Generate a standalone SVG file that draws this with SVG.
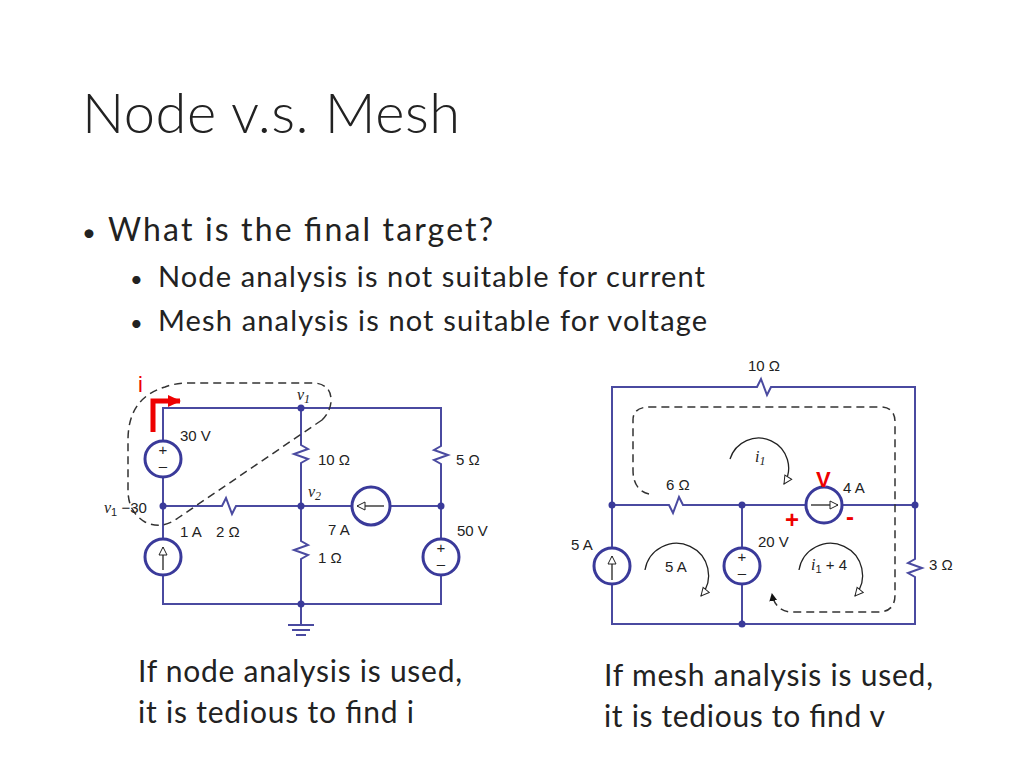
<svg xmlns="http://www.w3.org/2000/svg" width="1024" height="768" viewBox="0 0 1024 768">
<defs>
<style>
.w{stroke:#4a4aa0;stroke-width:2;fill:none}
.src{stroke:#3a3a9a;stroke-width:3;fill:#fff}
.d{stroke:#333;stroke-width:1.5;fill:none;stroke-dasharray:8,5}
.arc{stroke:#222;stroke-width:1.3;fill:none}
.l{font-family:"Liberation Sans",Arial,sans-serif;font-size:15px;fill:#222}
.t{font-family:Lato,"Noto Sans",sans-serif;fill:#222}
.n{fill:#3a3a9a}
.red{fill:#e00;font-family:"Liberation Sans",sans-serif}
</style>
<marker id="oa" markerWidth="10" markerHeight="10" refX="9" refY="5" orient="auto" markerUnits="userSpaceOnUse"><path d="M1,1 L9,5 L1,9 Z" fill="#fff" stroke="#222"/></marker>
<marker id="fa" markerWidth="8" markerHeight="10" refX="7" refY="5" orient="auto" markerUnits="userSpaceOnUse"><path d="M0,1 L8,5 L0,9 Z" fill="#111"/></marker>
<marker id="ra" markerWidth="14" markerHeight="14" refX="12" refY="7" orient="auto" markerUnits="userSpaceOnUse"><path d="M0,1 L13,7 L0,13 Z" fill="#e00"/></marker>
</defs>
<rect width="1024" height="768" fill="#fff"/>
<text class="t" x="82" y="133" font-size="56" font-weight="300" textLength="378">Node v.s. Mesh</text>
<text class="t" x="82" y="241" font-size="24">•</text>
<text class="t" x="108" y="241" font-size="32" textLength="385">What is the final target?</text>
<text class="t" x="130" y="287" font-size="22">•</text>
<text class="t" x="158" y="287" font-size="29" textLength="547">Node analysis is not suitable for current</text>
<text class="t" x="130" y="331" font-size="22">•</text>
<text class="t" x="158" y="331" font-size="29" textLength="549">Mesh analysis is not suitable for voltage</text>
<text class="t" x="138" y="682" font-size="30" textLength="324">If node analysis is used,</text>
<text class="t" x="138" y="723" font-size="30" textLength="276">it is tedious to find i</text>
<text class="t" x="604" y="686" font-size="30" textLength="329">If mesh analysis is used,</text>
<text class="t" x="604" y="727" font-size="30" textLength="281">it is tedious to find v</text>

<g id="connectors">
<path class="w" d="M163,441 V408 H441 V446 l-7,4 14,5 -14,5 7,4 V539 M441,575 V604 H163 V575 M163,539 V477 M163,506 H222 l4,-8 6,16 4,-8 H352 M390,506 H441"/>
<path class="w" d="M301,408 V445 l7,4 -14,5 14,5 -7,4 V541 l7,4 -14,5 14,5 -7,4 V625"/>
<path class="w" d="M288,625 H314 M292,630 H310 M296,635 H306"/>
<path class="w" d="M612,548 V387 H757 l4,-8 6,16 4,-8 H915 V559 l-7,4 14,5 -14,5 7,4 V624 H612 V584 M612,505 H669 l4,8 6,-16 4,8 H806 M842,505 H915 M742,505 V548 M742,584 V624"/>
<path class="d" d="M322,420 L178,518 Q162,530 145,522 Q128,512 128,490 L128,440 Q128,398 165,387 Q175,383 190,383 L315,383 Q332,385 331,402 Q330,412 322,420"/>
<path class="d" d="M649,494 Q633,490 633,470 L633,420 Q633,407 650,407 L880,407 Q895,407 895,422 L895,595 Q895,612 878,612 L790,612 Q775,610 772,594" marker-end="url(#fa)"/>
<path class="arc" d="M730,459 A30,30 0 1 1 784,484" marker-end="url(#oa)"/>
<path class="arc" d="M645,570 A32,32 0 1 1 701,596" marker-end="url(#oa)"/>
<path class="arc" d="M799,570 A32,32 0 1 1 855,596" marker-end="url(#oa)"/>
<path d="M153,432 V401 H180" stroke="#e00" stroke-width="5" fill="none" marker-end="url(#ra)"/>
</g>

<g id="nodes">
<g id="n-dots" class="n">
<circle cx="301" cy="408" r="3.5"/><circle cx="163" cy="506" r="3.5"/><circle cx="301" cy="506" r="3.5"/><circle cx="441" cy="506" r="3.5"/><circle cx="301" cy="604" r="3.5"/>
<circle cx="612" cy="505" r="3.5"/><circle cx="742" cy="505" r="3.5"/><circle cx="915" cy="505" r="3.5"/><circle cx="742" cy="624" r="3.5"/>
</g>
<g id="v30"><circle class="src" cx="163" cy="459" r="18"/><text class="l" x="163" y="455" text-anchor="middle" font-size="12">+</text><text class="l" x="163" y="471" text-anchor="middle" font-size="12">–</text></g>
<g id="i1A"><circle class="src" cx="163" cy="557" r="18"/><path d="M163,570 V547" stroke="#222" stroke-width="1.3" marker-end="url(#oa)"/></g>
<g id="i7A"><circle class="src" cx="371" cy="506" r="19"/><path d="M384,506 H357" stroke="#222" stroke-width="1.3" marker-end="url(#oa)"/></g>
<g id="v50"><circle class="src" cx="441" cy="557" r="18"/><text class="l" x="441" y="553" text-anchor="middle" font-size="12">+</text><text class="l" x="441" y="569" text-anchor="middle" font-size="12">–</text></g>
<g id="i5A"><circle class="src" cx="612" cy="566" r="18"/><path d="M612,580 V556" stroke="#222" stroke-width="1.3" marker-end="url(#oa)"/></g>
<g id="v20"><circle class="src" cx="742" cy="566" r="18"/><text class="l" x="742" y="562" text-anchor="middle" font-size="12">+</text><text class="l" x="742" y="578" text-anchor="middle" font-size="12">–</text></g>
<g id="i4A"><circle class="src" cx="824" cy="505" r="18"/><path d="M811,505 H838" stroke="#222" stroke-width="1.3" marker-end="url(#oa)"/></g>
</g>

<g id="labels" class="l">
<text x="297" y="400" font-family="Liberation Serif" font-style="italic" font-size="16">v<tspan font-size="12" dy="3">1</tspan></text>
<text x="180" y="441">30 V</text>
<text x="318" y="465">10 Ω</text>
<text x="456" y="465">5 Ω</text>
<text x="308" y="497" font-family="Liberation Serif" font-style="italic" font-size="16">v<tspan font-size="12" dy="3">2</tspan></text>
<text x="104" y="513"><tspan font-family="Liberation Serif" font-style="italic" font-size="16">v</tspan><tspan font-size="11" dy="3">1</tspan><tspan dy="-3"> −30</tspan></text>
<text x="180" y="537">1 A</text>
<text x="216" y="537">2 Ω</text>
<text x="328" y="535">7 A</text>
<text x="457" y="536">50 V</text>
<text x="318" y="563">1 Ω</text>
<text x="748" y="371">10 Ω</text>
<text x="755" y="462" font-family="Liberation Serif" font-style="italic" font-size="16">i<tspan font-size="12" dy="3">1</tspan></text>
<text x="666" y="490">6 Ω</text>
<text x="843" y="493">4 A</text>
<text x="571" y="550">5 A</text>
<text x="758" y="547">20 V</text>
<text x="665" y="572">5 A</text>
<text x="811" y="570"><tspan font-family="Liberation Serif" font-style="italic" font-size="16">i</tspan><tspan font-size="11" dy="3">1</tspan><tspan dy="-3"> + 4</tspan></text>
<text x="929" y="570">3 Ω</text>
<text class="red" x="138" y="392" font-size="22">i</text>
<text class="red" x="816" y="487" font-size="22" font-weight="bold">V</text>
<text class="red" x="785" y="528" font-size="24" font-weight="bold">+</text>
<text class="red" x="846" y="525" font-size="24" font-weight="bold">-</text>
</g>
</svg>
